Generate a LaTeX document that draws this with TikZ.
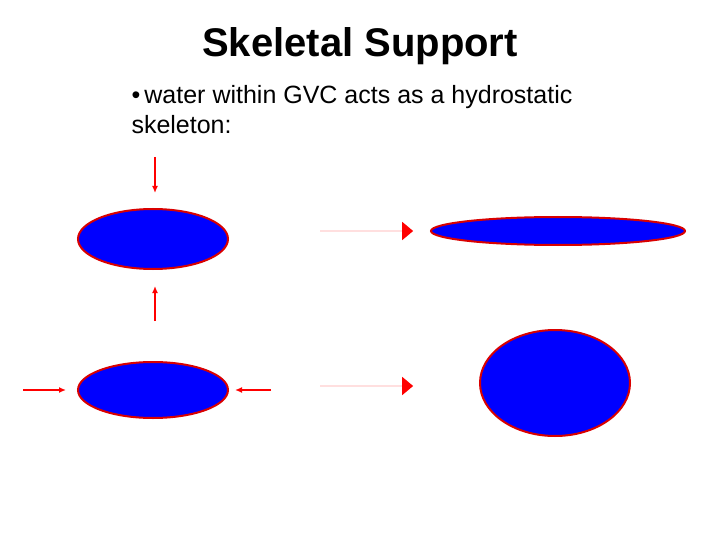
\documentclass[tikz,border=0pt]{standalone}
\usepackage{fontspec}
\setmainfont{Liberation Sans}
\usetikzlibrary{shapes.arrows, positioning, arrows.meta}

\begin{document}
\begin{tikzpicture}[x=1pt, y=-1pt,
        cell/.style={draw=red!85!black, line width=2pt, fill=blue},
        push/.style={draw=red, line width=1.5pt, -{Latex[length=7pt, width=6pt]}},
        bigarrow/.style={single arrow, fill=red, draw=none,
              minimum height=93pt, minimum width=18pt,
              single arrow head extend=9pt, single arrow head indent=0pt,
              inner sep=0pt, single arrow tip angle=80}]
        \useasboundingbox (0,0) rectangle (720,540);
        \node[font=\bfseries\fontsize{40}{44}\selectfont] (title) at (360,46) {Skeletal Support};
        \node[anchor=north west, align=left, font=\fontsize{25}{30}\selectfont] (text) at (128,82)
            {\textbullet\,water within GVC acts as a hydrostatic\\skeleton:};
        % squeezed from above and below
        \draw[cell] (153,239) ellipse [x radius=75, y radius=30];
        \coordinate (topstart) at (155,157);
        \coordinate (topend) at (155,193);
        \coordinate (botstart) at (155,321);
        \coordinate (botend) at (155,286);
        \draw[push] (topstart) -- (topend);
        \draw[push] (botstart) -- (botend);
        \node[bigarrow] (arrowa) at (366.5,231) {};
        \draw[cell] (558,231) ellipse [x radius=127, y radius=14];
        % squeezed from the sides
        \draw[cell] (153,390) ellipse [x radius=75, y radius=28];
        \coordinate (leftstart) at (23,390);
        \coordinate (leftend) at (66,390);
        \coordinate (rightstart) at (271,390);
        \coordinate (rightend) at (235,390);
        \draw[push] (leftstart) -- (leftend);
        \draw[push] (rightstart) -- (rightend);
        \node[bigarrow] (arrowb) at (366.5,386) {};
        \draw[cell] (555,383) ellipse [x radius=75, y radius=53];
\end{tikzpicture}
\end{document}
